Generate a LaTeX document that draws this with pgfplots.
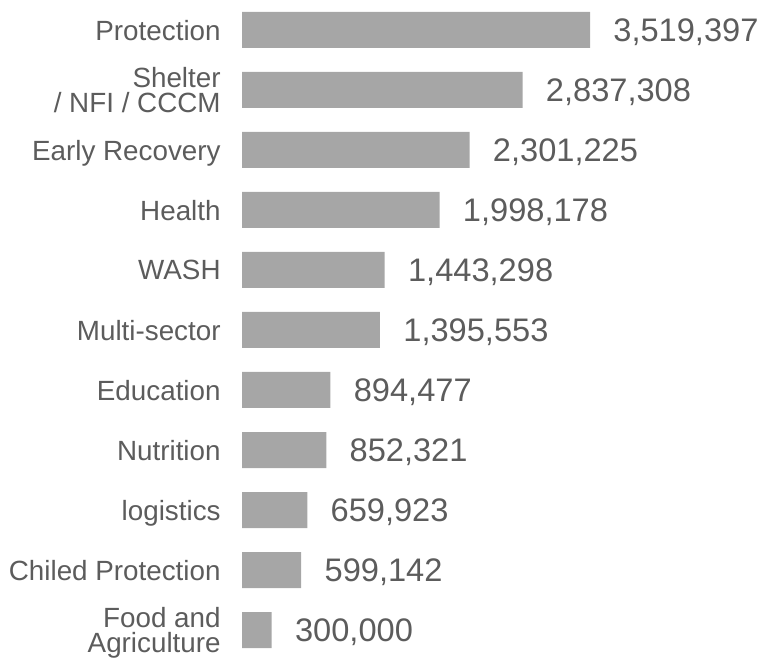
\documentclass[border=0pt]{standalone}
\usepackage{pgfplots}
\usepackage{pgfplotstable}
\pgfplotsset{compat=1.18}
\usepackage{fontspec}
\setmainfont{Liberation Sans}
\definecolor{barc}{HTML}{A6A6A6}
\definecolor{txtc}{HTML}{5C5C5C}
\pgfplotstableread{
i v lab
0 300000 300,000
1 599142 599,142
2 659923 659,923
3 852321 852,321
4 894477 894,477
5 1395553 1,395,553
6 1443298 1,443,298
7 1998178 1,998,178
8 2301225 2,301,225
9 2837308 2,837,308
10 3519397 3,519,397
}\datatab
\begin{document}
\begin{tikzpicture}
\useasboundingbox (0,0) rectangle (381.5pt,329pt);
\begin{axis}[
  at={(121pt,-1pt)}, anchor=south west,
  scale only axis,
  width=247.2pt, height=330pt,
  xmin=0, xmax=5000000,
  ymin=-0.5, ymax=10.5,
  clip=false,
  hide x axis,
  axis y line*=left,
  y axis line style={draw=none},
  major tick length=0pt,
  ytick={0,...,10},
  yticklabels={{Food and\\Agriculture},{Chiled Protection},{logistics},{Nutrition},{Education},{Multi-sector},{WASH},{Health},{Early Recovery},{Shelter\\/ NFI / CCCM},{Protection}},
  yticklabel style={font=\fontsize{13.9pt}{12.5pt}\selectfont, text=txtc, align=right, anchor=east, inner sep=0pt, xshift=-10.5pt, text depth=0pt},
  xbar, bar width=18pt,
  point meta=explicit symbolic,
  nodes near coords,
  nodes near coords style={font=\fontsize{16.3pt}{18pt}\selectfont, text=txtc, anchor=west, inner sep=0pt, xshift=11.5pt, text depth=0pt},
]
\addplot[fill=barc, draw=none] table[x=v, y=i, meta=lab] {\datatab};
\end{axis}
\end{tikzpicture}
\end{document}
